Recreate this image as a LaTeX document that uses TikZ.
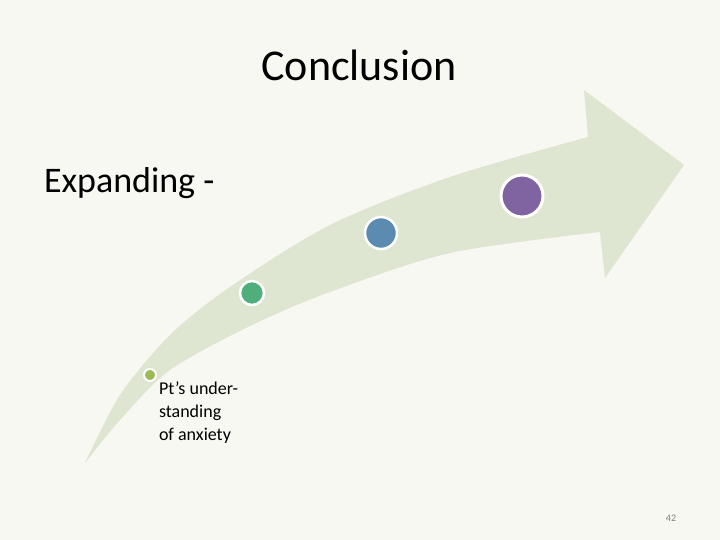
\documentclass[tikz,border=0pt]{standalone}
\usepackage{fontspec}
\setmainfont{Carlito}
\definecolor{bgc}{HTML}{F7F8F2}
\definecolor{arrowc}{HTML}{DEE6D1}
\definecolor{dotA}{HTML}{9BBB59}
\definecolor{dotB}{HTML}{50AE7B}
\definecolor{dotC}{HTML}{5B8BB0}
\definecolor{dotD}{HTML}{8064A2}
\definecolor{pgc}{HTML}{7F7F7F}
\tikzset{
  dot/.style={circle, draw=white, inner sep=0pt, outer sep=0pt},
  txt/.style={inner sep=0pt, outer sep=0pt, anchor=base west, align=left}
}
\begin{document}
\begin{tikzpicture}[x=1pt, y=-1pt]
\fill[bgc] (0,0) rectangle (720,540);
\useasboundingbox (0,0) rectangle (720,540);
% curved arrow
\fill[arrowc] plot[smooth] coordinates {(85,463) (120,395) (170,335) (230,287) (330,225) (450,177) (588,137)}
  -- (584,90) -- (684,165) -- (605,278) -- (600,232)
  -- plot[smooth] coordinates {(600,232) (450,253) (330,292) (250,326) (170,370) (120,420) (85,463)} -- cycle;
% dots
\node[dot, fill=dotA, line width=2pt, minimum size=12pt] (d1) at (150,375) {};
\node[dot, fill=dotB, line width=2.5pt, minimum size=24pt] (d2) at (252,293) {};
\node[dot, fill=dotC, line width=2.5pt, minimum size=32pt] (d3) at (381,233) {};
\node[dot, fill=dotD, line width=3pt, minimum size=42pt] (d4) at (522,196) {};
% texts
\node[inner sep=0pt, anchor=base, font=\fontsize{44}{52}\selectfont] (title) at (359,81) {Conclusion};
\node[txt, font=\fontsize{36}{43}\selectfont] (exp) at (44,193) {Expanding -};
\node[txt, font=\fontsize{18}{23}\selectfont] (pt) at (159,440) {Pt’s under-\\standing\\of anxiety};
\node[inner sep=0pt, anchor=base, text=pgc, font=\fontsize{10}{11}\selectfont] (pg) at (671,521) {42};
\end{tikzpicture}
\end{document}
